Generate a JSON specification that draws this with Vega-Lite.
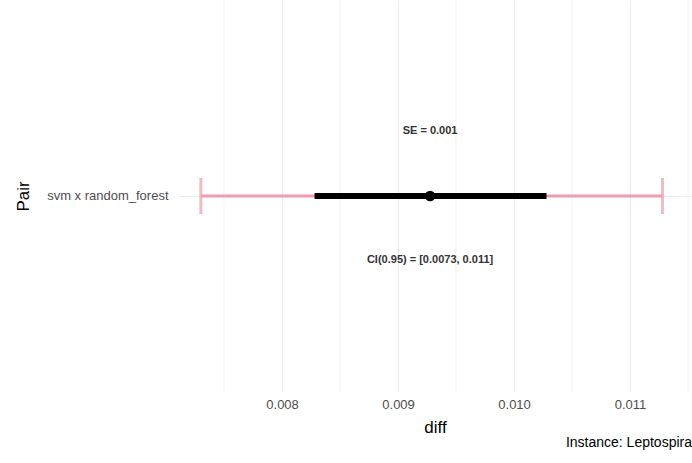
{
"$schema":"https://vega.github.io/schema/vega-lite/v6.json",
"autosize":"none","width":514,"height":392,
"padding":{"left":178,"top":0,"right":0,"bottom":71},
"background":"white",
"config":{"view":{"stroke":null},"font":"Liberation Sans"},
"title":{"text":"Instance: Leptospira","orient":"bottom","anchor":"end","fontSize":14,"fontWeight":"normal","color":"black","offset":1},
"datasets":{
"main":[{"pair":"svm x random_forest","diff":0.009276,"lo":0.0073,"hi":0.01128,"se_lo":0.00828,"se_hi":0.01028,"se_label":"SE = 0.001","ci_label":"CI(0.95) = [0.0073, 0.011]"}],
"minor":[{"m":0.0075},{"m":0.0085},{"m":0.0095},{"m":0.0105},{"m":0.0115}]
},
"data":{"name":"main"},
"encoding":{
"y":{"field":"pair","type":"nominal","title":"Pair","axis":{"domain":false,"ticks":false,"labelFontSize":13,"labelColor":"#4d4d4d","titleFontSize":17,"titleFontWeight":"normal","titleColor":"black","labelPadding":10,"titlePadding":14,"grid":true,"gridColor":"#ebebeb"}}
},
"layer":[
{"data":{"name":"minor"},"mark":{"type":"rule","color":"#f2f2f2","strokeWidth":1},"encoding":{"y":null,"x":{"field":"m","type":"quantitative"}}},
{"mark":{"type":"rule","color":"#ee9cae","strokeWidth":3},"encoding":{"x":{"field":"lo","type":"quantitative","scale":{"domain":[0.007103,0.011534],"nice":false,"zero":false},"title":"diff","axis":{"values":[0.008,0.009,0.01,0.011],"format":".3f","domain":false,"ticks":false,"labelFontSize":13,"labelColor":"#4d4d4d","titleFontSize":17,"titleFontWeight":"normal","titleColor":"black","labelPadding":6,"titlePadding":8,"gridColor":"#ebebeb","gridWidth":1.2}},"x2":{"field":"hi"}}},
{"mark":{"type":"tick","color":"#ee9cae","thickness":3,"size":36,"orient":"vertical"},"encoding":{"x":{"field":"lo","type":"quantitative"}}},
{"mark":{"type":"tick","color":"#ee9cae","thickness":3,"size":36,"orient":"vertical"},"encoding":{"x":{"field":"hi","type":"quantitative"}}},
{"mark":{"type":"rule","color":"black","strokeWidth":6},"encoding":{"x":{"field":"se_lo","type":"quantitative"},"x2":{"field":"se_hi"}}},
{"mark":{"type":"point","filled":true,"color":"black","size":110,"opacity":1},"encoding":{"x":{"field":"diff","type":"quantitative"}}},
{"mark":{"type":"text","dy":-65,"fontSize":11,"fontWeight":"bold","color":"#333"},"encoding":{"x":{"field":"diff","type":"quantitative"},"text":{"field":"se_label"}}},
{"mark":{"type":"text","dy":64,"fontSize":11,"fontWeight":"bold","color":"#333"},"encoding":{"x":{"field":"diff","type":"quantitative"},"text":{"field":"ci_label"}}}
]
}
